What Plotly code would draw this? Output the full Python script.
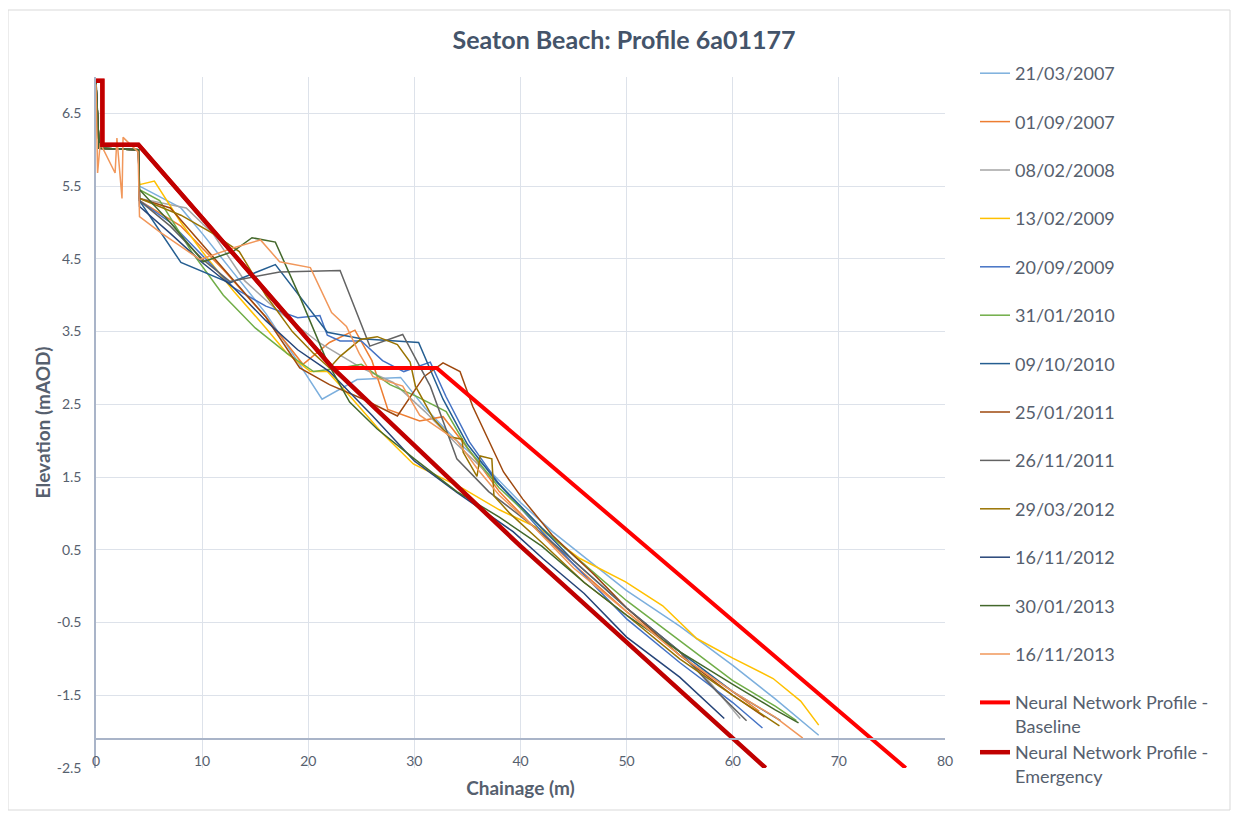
import plotly.graph_objects as go

# ---------------- data ----------------
dates = ["21/03/2007", "01/09/2007", "08/02/2008", "13/02/2009", "20/09/2009",
         "31/01/2010", "09/10/2010", "25/01/2011", "26/11/2011", "29/03/2012",
         "16/11/2012", "30/01/2013", "16/11/2013"]

x_20070321 = [0, 0.3, 4.0, 4.1, 8, 10, 13, 16, 18.5, 21.3, 24.6, 28.7, 31, 34, 37, 40, 43, 46, 50, 55, 60, 64, 68.1]
y_20070321 = [6.9, 6.02, 6.0, 5.5, 5.2, 4.85, 4.3, 3.75, 3.2, 2.57, 2.84, 2.87, 2.45, 2.0, 1.6, 1.15, 0.75, 0.4, -0.06, -0.55, -1.09, -1.55, -2.05]

x_20070901 = [0, 0.3, 4.0, 4.1, 8, 12, 16, 19.5, 22, 24.4, 26, 27.5, 30.5, 32.7, 35, 38, 41, 45, 50, 55, 60, 62.5]
y_20070901 = [6.9, 6.02, 6.0, 5.3, 4.95, 4.35, 3.7, 3.05, 3.35, 3.52, 3.1, 2.43, 2.27, 2.33, 1.9, 1.3, 0.85, 0.3, -0.35, -0.95, -1.45, -1.72]

x_20080208 = [0, 0.3, 4.0, 4.1, 8.5, 11, 14, 17, 21, 25, 28, 31, 34, 38, 42, 46, 50, 55, 58, 60.7]
y_20080208 = [6.9, 6.02, 6.0, 5.33, 5.2, 4.85, 4.2, 3.8, 3.35, 3.0, 2.8, 2.4, 1.95, 1.4, 0.8, 0.3, -0.3, -0.9, -1.35, -1.82]

x_20090213 = [0, 0.3, 4.0, 4.1, 5.5, 8, 10, 13, 16, 18, 20.2, 21.8, 24, 27, 29.9, 34.6, 38, 41.8, 45.6, 49.9, 53.4, 56.6, 60, 63.8, 66.4, 68.1]
y_20090213 = [6.9, 6.02, 6.0, 5.52, 5.57, 5.0, 4.6, 4.05, 3.55, 3.2, 2.95, 2.95, 2.6, 2.1, 1.68, 1.34, 1.05, 0.79, 0.38, 0.06, -0.27, -0.72, -0.99, -1.27, -1.58, -1.91]

x_20090920 = [0, 0.3, 4.0, 4.1, 7, 10, 13, 16, 19, 21.1, 21.8, 23, 25, 27, 29, 31.5, 33, 35.2, 38, 42, 46, 50, 55, 60, 62.8]
y_20090920 = [6.9, 6.02, 6.0, 5.3, 5.0, 4.55, 4.1, 3.85, 3.69, 3.72, 3.45, 3.37, 3.37, 3.1, 2.95, 3.08, 2.6, 1.98, 1.4, 0.75, 0.15, -0.45, -1.05, -1.6, -1.95]

x_20100131 = [0, 0.3, 4.0, 4.1, 6, 9, 12, 15, 18, 20.5, 23, 25, 27.7, 30.2, 33, 35, 38, 42, 46, 50, 55, 60, 64, 66]
y_20100131 = [6.9, 6.02, 6.0, 5.45, 5.3, 4.6, 4.0, 3.55, 3.2, 2.95, 3.0, 3.05, 2.77, 2.61, 2.4, 1.9, 1.35, 0.8, 0.3, -0.2, -0.75, -1.3, -1.65, -1.85]

x_20101009 = [0, 0.3, 4.0, 4.1, 8, 12.6, 16.9, 21.8, 25, 30.4, 32.7, 35, 37.8, 41, 45, 50, 55, 60, 64.5]
y_20101009 = [6.9, 6.02, 6.0, 5.3, 4.45, 4.17, 4.42, 3.49, 3.4, 3.35, 2.57, 1.95, 1.43, 0.95, 0.35, -0.3, -0.9, -1.45, -1.85]

x_20110125 = [0, 0.3, 4.0, 4.1, 7, 10, 13, 16, 19.2, 22, 25.2, 28.4, 30.9, 32.7, 34.3, 35.5, 38.4, 40.2, 43, 47, 50, 55, 60, 63]
y_20110125 = [6.9, 6.02, 6.0, 5.33, 5.2, 4.7, 4.2, 3.7, 3.0, 2.77, 2.57, 2.34, 2.88, 3.07, 2.95, 2.47, 1.57, 1.2, 0.7, 0.15, -0.3, -0.95, -1.5, -1.8]

x_20111126 = [0, 0.3, 4.0, 4.1, 7, 10, 12.6, 17.3, 23, 25.2, 25.8, 28.9, 31.5, 34, 37, 41, 45, 50, 55, 58.5, 61.3]
y_20111126 = [6.95, 6.02, 6.0, 5.3, 4.95, 4.5, 4.19, 4.32, 4.34, 3.53, 3.3, 3.46, 2.75, 1.75, 1.3, 0.85, 0.35, -0.3, -0.9, -1.45, -1.85]

x_20120329 = [0, 0.3, 4.0, 4.1, 8, 11, 13.5, 16, 18.5, 20.5, 22, 23, 24.9, 26.5, 28.4, 29.6, 30.1, 31.8, 33.4, 34.5, 34.6, 35.9, 36.2, 37.3, 37.5, 39, 42, 46, 50, 55, 60, 64.4]
y_20120329 = [6.9, 6.02, 6.0, 5.33, 5.1, 4.85, 4.6, 4.0, 3.5, 3.2, 3.0, 3.16, 3.39, 3.43, 3.32, 3.08, 2.75, 2.3, 2.05, 2.02, 1.84, 1.51, 1.79, 1.75, 1.24, 1.0, 0.6, 0.05, -0.4, -1.0, -1.5, -1.92]

x_20121116 = [0, 0.3, 4.0, 4.1, 7, 10, 13, 16, 19, 22, 26, 30, 34, 39.3, 42.1, 46, 50, 55, 59.2]
y_20121116 = [6.9, 6.02, 6.0, 5.22, 4.85, 4.45, 4.1, 3.65, 3.25, 2.95, 2.35, 1.72, 1.29, 0.75, 0.38, -0.1, -0.7, -1.25, -1.82]

x_20130130 = [0, 0.3, 4.0, 4.1, 7, 10.1, 12.9, 14.7, 16.9, 19.2, 21.8, 23.9, 26.5, 30, 34, 38, 42, 46, 50, 55, 60, 64, 66.2]
y_20130130 = [6.95, 6.02, 6.0, 5.45, 5.0, 4.46, 4.6, 4.79, 4.73, 3.98, 3.08, 2.53, 2.16, 1.75, 1.3, 0.95, 0.55, 0.05, -0.4, -0.9, -1.35, -1.7, -1.88]

x_20131116 = [0, 0.15, 0.4, 1.8, 1.97, 2.45, 2.55, 3.96, 4.1, 6, 9.8, 12.9, 15.5, 17.3, 20.2, 22.2, 23.6, 24.8, 26.1, 28.9, 30.5, 32, 34, 36, 38, 41, 45, 50, 55, 60, 64, 66.6]
y_20131116 = [6.9, 5.68, 6.09, 5.68, 6.16, 5.33, 6.17, 5.97, 5.08, 4.87, 4.49, 4.65, 4.76, 4.46, 4.38, 3.76, 3.57, 3.2, 2.88, 2.75, 2.35, 2.2, 2.0, 1.6, 1.25, 0.85, 0.25, -0.35, -0.95, -1.45, -1.8, -2.09]

x_baseline = [0, 0.6, 0.6, 4.0, 22.3, 32.1, 76.3]
y_baseline = [6.95, 6.95, 6.07, 6.07, 3.0, 3.0, -2.5]

x_emergency = [0, 0.6, 0.6, 4.0, 22.3, 40.0, 63.1]
y_emergency = [6.95, 6.95, 6.07, 6.07, 3.0, 0.55, -2.5]

survey_x = [x_20070321, x_20070901, x_20080208, x_20090213, x_20090920, x_20100131, x_20101009,
            x_20110125, x_20111126, x_20120329, x_20121116, x_20130130, x_20131116]
survey_y = [y_20070321, y_20070901, y_20080208, y_20090213, y_20090920, y_20100131, y_20101009,
            y_20110125, y_20111126, y_20120329, y_20121116, y_20130130, y_20131116]

colors = ["#7CAFDD", "#ED7D31", "#A5A5A5", "#FFC000", "#4472C4", "#70AD47", "#255E91",
          "#9E480E", "#636363", "#997300", "#264478", "#43682B", "#F1975A"]

x_ticks = [0, 10, 20, 30, 40, 50, 60, 70, 80]
y_ticks = [-2.5, -1.5, -0.5, 0.5, 1.5, 2.5, 3.5, 4.5, 5.5, 6.5]

# ---------------- figure ----------------
FONT = "Lato, 'Open Sans', sans-serif"
TXT = "#56606E"

fig = go.Figure()
for i, (name, xs, ys, c) in enumerate(zip(dates, survey_x, survey_y, colors)):
    fig.add_trace(go.Scatter(x=xs, y=ys, mode="lines", name=name,
                             line=dict(color=c, width=1.5), legendgroup=f"g{i:02d}"))

fig.add_trace(go.Scatter(x=x_baseline, y=y_baseline, mode="lines",
                         name="Neural Network Profile -<br>Baseline",
                         line=dict(color="#FF0000", width=4), legendgroup="zz"))
fig.add_trace(go.Scatter(x=x_emergency, y=y_emergency, mode="lines",
                         name="Neural Network Profile -<br>Emergency",
                         line=dict(color="#C00000", width=4.5), legendgroup="zz"))

axis_line = "#A9B4C8"
grid = "#DDE2EA"

# page body has an 8px margin: figure is drawn at (8,8)
W, H = 1231, 807
L, R, T, B = 88, 294, 69, 47
PW, PH = W - L - R, H - T - B

fig.update_layout(
    width=W, height=H,
    margin=dict(l=L, r=R, t=T, b=B, autoexpand=False),
    paper_bgcolor="white", plot_bgcolor="white",
    title=dict(text="<b>Seaton Beach: Profile 6a01177</b>", x=616 / W, xref="container",
               xanchor="center", y=1 - 32 / H, yref="container", yanchor="middle",
               font=dict(family=FONT, size=25, color="#44546A")),
    font=dict(family=FONT, color=TXT),
    showlegend=True,
    legend=dict(x=(967 - L) / PW, xanchor="left", y=1 + 22 / PH, yanchor="top",
                font=dict(family=FONT, size=18, color=TXT),
                traceorder="grouped", tracegroupgap=22, valign="top",
                maxheight=900,
                bgcolor="rgba(0,0,0,0)", borderwidth=0),
    xaxis=dict(range=[0, 80], tickvals=x_ticks, ticktext=[str(v) for v in x_ticks],
               showgrid=True, gridcolor=grid, gridwidth=1, zeroline=False,
               showline=True, linecolor=axis_line, linewidth=1.5,
               anchor="free", position=(-2.1 + 2.5) / 9.5,
               ticks="outside", ticklen=10, tickcolor="rgba(0,0,0,0)",
               tickfont=dict(family=FONT, size=14, color=TXT),
               title=dict(text="<b>Chainage (m)</b>", standoff=12,
                          font=dict(family=FONT, size=19, color=TXT))),
    yaxis=dict(range=[-2.5, 7.0], tickvals=y_ticks,
               ticktext=[f"{v:.1f}" for v in y_ticks],
               showgrid=True, gridcolor=grid, gridwidth=1, zeroline=False,
               showline=True, linecolor=axis_line, linewidth=1.5,
               ticks="outside", ticklen=10, tickcolor="rgba(0,0,0,0)",
               tickfont=dict(family=FONT, size=14, color=TXT),
               title=dict(text="<b>Elevation (mAOD)</b>", standoff=1,
                          font=dict(family=FONT, size=19, color=TXT))),
    shapes=[dict(type="rect", xref="paper", yref="paper",
                 x0=(0 - L) / PW, x1=(1222 - L) / PW,
                 y0=(PH + T - 802) / PH, y1=(PH + T - 2) / PH,
                 line=dict(color="#D9D9D9", width=1), fillcolor="rgba(0,0,0,0)",
                 layer="below")],
)

fig.write_html("out.html")
